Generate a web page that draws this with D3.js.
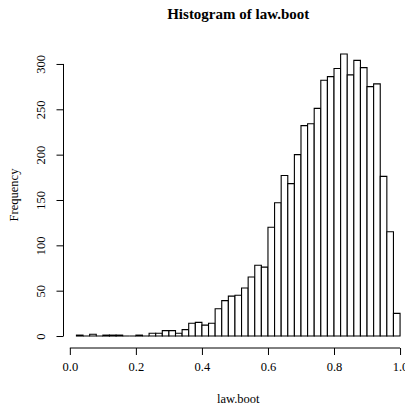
<!DOCTYPE html>
<html>
<head>
<meta charset="utf-8">
<script src="https://cdn.jsdelivr.net/npm/d3@7"></script>
<style>
  html, body { margin: 0; padding: 0; background: #fff; }
  svg { display: block; }
  text { font-family: "Liberation Serif", "DejaVu Serif", serif; fill: #000; }
</style>
</head>
<body>
<svg id="chart" width="405" height="406"></svg>
<script>
// Bin edges (lower bounds) of the histogram of law.boot, width 0.02
const binStarts = [0.02, 0.04, 0.06, 0.08, 0.10, 0.12, 0.14, 0.16, 0.18, 0.20,
                   0.22, 0.24, 0.26, 0.28, 0.30, 0.32, 0.34, 0.36, 0.38, 0.40,
                   0.42, 0.44, 0.46, 0.48, 0.50, 0.52, 0.54, 0.56, 0.58, 0.60,
                   0.62, 0.64, 0.66, 0.68, 0.70, 0.72, 0.74, 0.76, 0.78, 0.80,
                   0.82, 0.84, 0.86, 0.88, 0.90, 0.92, 0.94, 0.96, 0.98];
const binWidth = 0.02;
// Frequency in each bin
const counts = [1, 0, 2, 0, 1, 1, 1, 0, 0, 1,
                0, 3, 3, 6, 6, 3, 7, 14, 15, 12,
                14, 30, 39, 44, 45, 53, 65, 78, 76, 120,
                147, 177, 168, 200, 232, 234, 251, 282, 286, 295,
                311, 288, 304, 296, 275, 278, 176, 115, 25];
const xTicks = [0.0, 0.2, 0.4, 0.6, 0.8, 1.0];
const yTicks = [0, 50, 100, 150, 200, 250, 300];

const title = "Histogram of law.boot";
const xLabel = "law.boot";
const yLabel = "Frequency";

const svg = d3.select("#chart");

// Plot region with R-style 4% padding on both axes
const xlo = binStarts[0], xhi = binStarts[binStarts.length - 1] + binWidth;
const xpad = 0.04 * (xhi - xlo);
const ymax = d3.max(counts);
const ypad = 0.04 * ymax;

const x = d3.scaleLinear().domain([xlo - xpad, xhi + xpad]).range([63.5, 413]);
const y = d3.scaleLinear().domain([-ypad, ymax + ypad]).range([347.3, 42.7]);

// Bars as closed outlines, so empty bins still show a line on the baseline
const bins = binStarts.map((b, i) => ({ b0: b, b1: b + binWidth, n: counts[i] }));
svg.append("g")
  .selectAll("path")
  .data(bins)
  .join("path")
  .attr("d", d => {
    const x0 = x(d.b0), x1 = x(d.b1), y0 = y(0), y1 = y(d.n);
    return `M${x0},${y0}L${x0},${y1}L${x1},${y1}L${x1},${y0}Z`;
  })
  .attr("fill", "#fff")
  .attr("stroke", "#000")
  .attr("stroke-width", 1.1);

// X axis
const xAxisY = 348;
const gx = svg.append("g")
  .attr("transform", `translate(0,${xAxisY})`)
  .call(d3.axisBottom(x).tickValues(xTicks).tickFormat(d3.format(".1f")).tickSize(7).tickPadding(7));
gx.select(".domain").remove();
gx.append("line")
  .attr("x1", x(xTicks[0])).attr("x2", x(xTicks[xTicks.length - 1]))
  .attr("stroke", "#000");
gx.selectAll(".tick line").attr("stroke", "#000");
gx.selectAll(".tick text")
  .style("font-family", '"Liberation Serif", serif')
  .style("font-size", "12.5px")
  .attr("fill", "#000");

// Y axis with labels running parallel to the axis
const yAxisX = 63.5;
const gy = svg.append("g")
  .attr("transform", `translate(${yAxisX},0)`)
  .call(d3.axisLeft(y).tickValues(yTicks).tickSize(7).tickFormat(d3.format("d")));
gy.select(".domain").remove();
gy.append("line")
  .attr("y1", y(yTicks[0])).attr("y2", y(yTicks[yTicks.length - 1]))
  .attr("stroke", "#000");
gy.selectAll(".tick line").attr("stroke", "#000");
gy.selectAll(".tick text")
  .attr("x", null).attr("dy", null)
  .attr("transform", "translate(-19,0) rotate(-90)")
  .attr("text-anchor", "middle")
  .attr("dominant-baseline", "auto")
  .style("font-family", '"Liberation Serif", serif')
  .style("font-size", "12.5px")
  .attr("fill", "#000");

// Titles
svg.append("text")
  .attr("x", (x.range()[0] + x.range()[1]) / 2)
  .attr("y", 18.5)
  .attr("text-anchor", "middle")
  .style("font-weight", "bold")
  .style("font-size", "15px")
  .text(title);

svg.append("text")
  .attr("x", (x.range()[0] + x.range()[1]) / 2)
  .attr("y", 403)
  .attr("text-anchor", "middle")
  .style("font-size", "12.5px")
  .text(xLabel);

svg.append("text")
  .attr("transform", `translate(18,${(y.range()[0] + y.range()[1]) / 2}) rotate(-90)`)
  .attr("text-anchor", "middle")
  .style("font-size", "12.5px")
  .text(yLabel);
</script>
</body>
</html>
